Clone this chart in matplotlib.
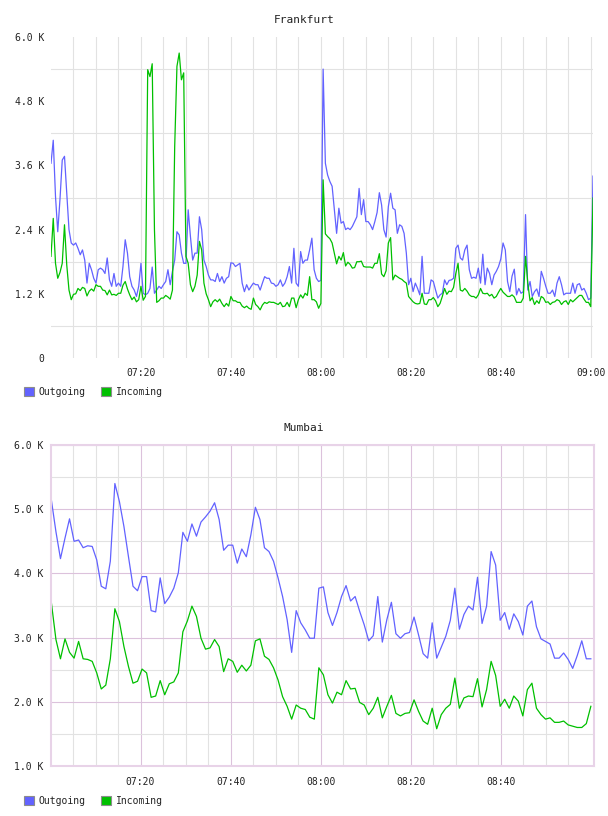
import numpy as np
import matplotlib.pyplot as plt
from matplotlib.patches import Patch

plt.rcParams['font.family'] = 'DejaVu Sans Mono'
plt.rcParams['font.size'] = 7

# etiquetas del eje de tiempo (minutos desde las 07:00)
tick_min = [20, 40, 60, 80, 100, 120]
tick_labels = ["07:20", "07:40", "08:00", "08:20", "08:40", "09:00"]

# Frankfurt: valores en K, una muestra cada 30 s desde las 07:00
fra_out = [
    3.64, 4.07, 3.02, 2.36, 2.97, 3.70, 3.77, 3.08, 2.40, 2.15,
    2.11, 2.15, 2.05, 1.93, 2.02, 1.83, 1.40, 1.77, 1.65, 1.49,
    1.40, 1.65, 1.68, 1.65, 1.58, 1.87, 1.46, 1.34, 1.58, 1.34,
    1.40, 1.34, 1.71, 2.21, 1.96, 1.52, 1.34, 1.27, 1.15, 1.34,
    1.77, 1.21, 1.18, 1.21, 1.30, 1.70, 1.21, 1.27, 1.34, 1.30,
    1.37, 1.43, 1.65, 1.37, 1.62, 1.83, 2.36, 2.30, 1.96, 1.77,
    1.77, 2.77, 2.27, 1.83, 1.96, 1.96, 2.64, 2.40, 1.83, 1.71,
    1.55, 1.46, 1.46, 1.43, 1.58, 1.43, 1.52, 1.40, 1.49, 1.52,
    1.78, 1.77, 1.71, 1.74, 1.77, 1.40, 1.24, 1.37, 1.27, 1.34,
    1.40, 1.37, 1.37, 1.27, 1.40, 1.52, 1.49, 1.49, 1.40, 1.39,
    1.34, 1.37, 1.46, 1.34, 1.40, 1.52, 1.71, 1.40, 2.05, 1.40,
    1.34, 1.99, 1.77, 1.83, 1.83, 2.02, 2.24, 1.65, 1.49, 1.43,
    1.45, 5.40, 3.64, 3.42, 3.30, 3.21, 2.77, 2.33, 2.80, 2.52,
    2.55, 2.40, 2.43, 2.40, 2.46, 2.55, 2.64, 3.17, 2.68, 2.96,
    2.55, 2.55, 2.49, 2.40, 2.55, 2.72, 3.09, 2.86, 2.40, 2.26,
    2.83, 3.08, 2.80, 2.77, 2.33, 2.49, 2.46, 2.33, 1.96, 1.37,
    1.49, 1.24, 1.40, 1.30, 1.18, 1.90, 1.21, 1.21, 1.21, 1.46,
    1.43, 1.27, 1.12, 1.18, 1.21, 1.46, 1.37, 1.45, 1.46, 1.49,
    2.05, 2.11, 1.87, 1.83, 2.02, 2.11, 1.65, 1.49, 1.51, 1.49,
    1.68, 1.40, 1.94, 1.37, 1.68, 1.58, 1.37, 1.55, 1.62, 1.71,
    1.85, 2.15, 2.02, 1.43, 1.24, 1.53, 1.66, 1.18, 1.30, 1.21,
    1.24, 2.68, 1.27, 1.43, 1.15, 1.24, 1.29, 1.15, 1.62, 1.49,
    1.34, 1.21, 1.21, 1.27, 1.15, 1.40, 1.52, 1.37, 1.18, 1.21,
    1.21, 1.21, 1.40, 1.21, 1.37, 1.39, 1.27, 1.30, 1.21, 1.09,
    1.12, 3.40,
]
fra_in = [
    1.90, 2.61, 1.77, 1.49, 1.60, 1.77, 2.49, 1.74, 1.27, 1.09,
    1.19, 1.20, 1.30, 1.26, 1.32, 1.30, 1.16, 1.25, 1.29, 1.25,
    1.37, 1.34, 1.34, 1.27, 1.26, 1.18, 1.27, 1.18, 1.19, 1.17,
    1.21, 1.21, 1.36, 1.43, 1.29, 1.18, 1.09, 1.14, 1.05, 1.09,
    1.34, 1.08, 1.15, 5.39, 5.26, 5.50, 2.40, 1.04, 1.07, 1.12,
    1.12, 1.17, 1.14, 1.10, 1.27, 3.95, 5.45, 5.70, 5.20, 5.33,
    1.90, 1.77, 1.37, 1.24, 1.34, 1.55, 2.18, 2.02, 1.40, 1.20,
    1.09, 0.96, 1.05, 1.09, 1.05, 1.10, 1.02, 0.96, 1.02, 0.97,
    1.15, 1.07, 1.07, 1.04, 1.04, 0.97, 0.94, 0.97, 0.93, 0.91,
    1.12, 1.00, 0.96, 0.90, 0.99, 1.04, 1.02, 1.05, 1.04, 1.04,
    1.02, 1.00, 1.04, 0.96, 0.97, 1.04, 0.96, 1.12, 1.12, 0.94,
    1.09, 1.18, 1.12, 1.21, 1.17, 1.52, 1.09, 1.09, 1.05, 0.93,
    1.02, 3.33, 2.32, 2.27, 2.23, 2.15, 1.95, 1.76, 1.90, 1.83,
    1.97, 1.72, 1.79, 1.75, 1.68, 1.69, 1.80, 1.80, 1.81, 1.71,
    1.70, 1.70, 1.70, 1.68, 1.77, 1.77, 1.95, 1.57, 1.52, 1.63,
    2.15, 2.25, 1.46, 1.55, 1.52, 1.49, 1.47, 1.43, 1.40, 1.15,
    1.10, 1.05, 1.02, 1.01, 1.02, 1.21, 1.01, 1.00, 1.09, 1.09,
    1.13, 1.07, 0.96, 1.02, 1.15, 1.30, 1.19, 1.25, 1.24, 1.32,
    1.58, 1.77, 1.27, 1.25, 1.30, 1.25, 1.18, 1.15, 1.15, 1.12,
    1.18, 1.30, 1.21, 1.20, 1.21, 1.16, 1.19, 1.12, 1.15, 1.23,
    1.30, 1.23, 1.19, 1.15, 1.15, 1.18, 1.14, 1.04, 1.04, 1.04,
    1.12, 1.90, 1.40, 1.07, 1.13, 1.00, 1.07, 1.02, 1.15, 1.12,
    1.04, 1.05, 1.00, 1.04, 1.05, 1.09, 1.07, 1.00, 1.05, 1.07,
    1.00, 1.09, 1.05, 1.09, 1.13, 1.17, 1.17, 1.10, 1.04, 1.04,
    0.96, 2.99,
]

# Mumbai: valores en K, aprox. una muestra por minuto
mum_out = [
    5.14, 4.65, 4.23, 4.55, 4.85, 4.50, 4.52, 4.40, 4.43, 4.42,
    4.21, 3.80, 3.76, 4.19, 5.40, 5.12, 4.73, 4.26, 3.80, 3.73,
    3.95, 3.95, 3.42, 3.40, 3.93, 3.53, 3.63, 3.77, 4.01, 4.64,
    4.50, 4.77, 4.58, 4.80, 4.88, 4.97, 5.10, 4.84, 4.36, 4.44,
    4.44, 4.16, 4.38, 4.26, 4.60, 5.03, 4.84, 4.40, 4.34, 4.19,
    3.93, 3.64, 3.28, 2.77, 3.42, 3.23, 3.12, 2.99, 2.99, 3.77,
    3.79, 3.39, 3.19, 3.39, 3.64, 3.81, 3.57, 3.64, 3.41, 3.20,
    2.95, 3.03, 3.64, 2.93, 3.28, 3.55, 3.06, 2.99, 3.06, 3.08,
    3.32, 3.04, 2.75, 2.68, 3.23, 2.68, 2.85, 3.02, 3.27, 3.77,
    3.13, 3.36, 3.49, 3.43, 3.94, 3.22, 3.49, 4.34, 4.13, 3.27,
    3.39, 3.13, 3.37, 3.25, 3.04, 3.49, 3.57, 3.17, 2.98, 2.94,
    2.90, 2.68, 2.68, 2.76, 2.66, 2.52, 2.72, 2.95, 2.67, 2.67,
]
mum_in = [
    3.54, 2.97, 2.67, 2.98, 2.77, 2.68, 2.94, 2.67, 2.66, 2.63,
    2.45, 2.20, 2.26, 2.67, 3.45, 3.25, 2.86, 2.55, 2.29, 2.32,
    2.51, 2.45, 2.07, 2.09, 2.33, 2.11, 2.28, 2.31, 2.45, 3.09,
    3.26, 3.49, 3.33, 2.99, 2.82, 2.84, 2.97, 2.86, 2.47, 2.67,
    2.63, 2.46, 2.57, 2.48, 2.57, 2.95, 2.98, 2.71, 2.66, 2.53,
    2.34, 2.08, 1.93, 1.73, 1.95, 1.90, 1.88, 1.76, 1.73, 2.53,
    2.42, 2.11, 1.98, 2.15, 2.11, 2.33, 2.20, 2.21, 1.99, 1.95,
    1.80, 1.90, 2.07, 1.75, 1.93, 2.10, 1.82, 1.78, 1.82, 1.83,
    2.03, 1.85, 1.70, 1.65, 1.90, 1.58, 1.80, 1.90, 1.96, 2.37,
    1.90, 2.06, 2.09, 2.08, 2.36, 1.92, 2.19, 2.63, 2.41, 1.93,
    2.04, 1.90, 2.09, 2.01, 1.78, 2.19, 2.29, 1.90, 1.80, 1.73,
    1.75, 1.68, 1.68, 1.70, 1.64, 1.62, 1.60, 1.60, 1.66, 1.93,
]

AZUL = "#6262ff"
VERDE = "#00c000"
TEXTO = "#222222"
GRIS = "#e2e2e2"
ROSA = "#dcc2dc"
MARCO = "#e8d3e8"

W, H = 608, 816
fig = plt.figure(figsize=(W / 100, H / 100), dpi=100)

t_fra = np.arange(len(fra_out)) * 0.5
t_mum = np.linspace(0.2, 120, len(mum_out))


def fmt_k(v):
    return "0" if v == 0 else f"{v:.1f} K"


def leyenda(y_pix):
    h = [Patch(facecolor=AZUL, edgecolor="#8c8c8c", lw=0.8, label="Outgoing"),
         Patch(facecolor=VERDE, edgecolor="#8c8c8c", lw=0.8, label="Incoming")]
    fig.legend(handles=h, loc="center left", bbox_to_anchor=(24 / W, 1 - y_pix / H),
               ncol=2, frameon=False, handlelength=1.0, handleheight=1.0,
               handletextpad=0.5, columnspacing=1.6, borderpad=0, borderaxespad=0,
               fontsize=7, labelcolor=TEXTO)


# ---------- Frankfurt ----------
ax1 = fig.add_axes([51 / W, 1 - 358 / H, 542 / W, 321 / H])
ax1.plot(t_fra, fra_out, color=AZUL, lw=0.9)
ax1.plot(t_fra, fra_in, color=VERDE, lw=0.9)
ax1.set_xlim(0, 120.5)
ax1.set_ylim(0, 6.0)
yt = np.round(np.arange(0, 6.01, 1.2), 1)
ax1.set_yticks(yt)
ax1.set_yticklabels([fmt_k(v) for v in yt])
ax1.set_yticks(np.arange(0.6, 6.0, 1.2), minor=True)
ax1.set_xticks(tick_min)
ax1.set_xticklabels(tick_labels)
ax1.set_xticks([m for m in range(5, 120, 5) if m % 20], minor=True)
ax1.grid(True, which="minor", color=GRIS, lw=0.8)
ax1.grid(True, which="major", axis="x", color=GRIS, lw=0.8)
ax1.set_axisbelow(True)
for s in ax1.spines.values():
    s.set_visible(False)
ax1.tick_params(which="both", length=0, labelcolor=TEXTO)
ax1.tick_params(axis="y", pad=5)
ax1.tick_params(axis="x", pad=7)
fig.text(0.5, 1 - 20 / H, "Frankfurt", ha="center", va="center", fontsize=8, color=TEXTO)
leyenda(392)

# ---------- Mumbai ----------
ax2 = fig.add_axes([50.5 / W, 1 - 766 / H, 543.5 / W, 321 / H])
ax2.plot(t_mum, mum_out, color=AZUL, lw=0.9)
ax2.plot(t_mum, mum_in, color=VERDE, lw=0.9)
ax2.set_xlim(0, 120.7)
ax2.set_ylim(1.0, 6.0)
yt2 = np.arange(1.0, 6.01, 1.0)
ax2.set_yticks(yt2)
ax2.set_yticklabels([fmt_k(v) for v in yt2])
ax2.set_yticks(np.arange(1.5, 6.0, 1.0), minor=True)
ax2.set_xticks(tick_min[:5])
ax2.set_xticklabels(tick_labels[:5])
ax2.set_xticks([m for m in range(5, 120, 5) if m % 20], minor=True)
ax2.grid(True, which="major", color=ROSA, lw=0.8)
ax2.grid(True, which="minor", color=GRIS, lw=0.8)
ax2.set_axisbelow(True)
for s in ax2.spines.values():
    s.set_color(MARCO)
    s.set_linewidth(1.5)
ax2.tick_params(which="both", length=0, labelcolor=TEXTO)
ax2.tick_params(axis="y", pad=5)
ax2.tick_params(axis="x", pad=8)
fig.text(0.5, 1 - 428 / H, "Mumbai", ha="center", va="center", fontsize=8, color=TEXTO)
leyenda(800.5)

fig.savefig("out.png", dpi=100)
